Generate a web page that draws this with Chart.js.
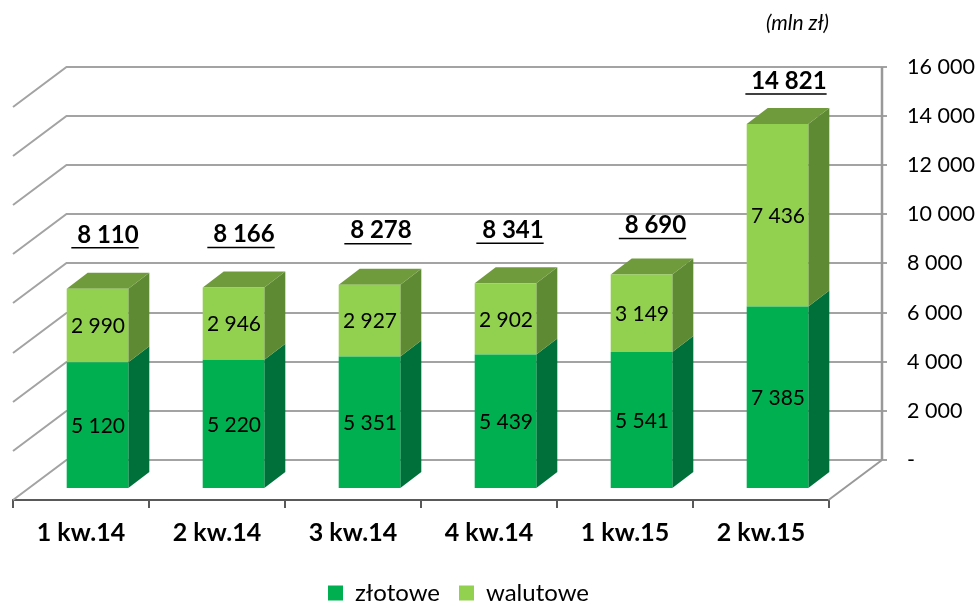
<!DOCTYPE html>
<html><head><meta charset="utf-8">
<style>html,body{margin:0;padding:0;background:#fff}#w{width:977px;height:603px;position:relative}</style>
<script src="https://cdn.jsdelivr.net/npm/chart.js@4"></script>
</head><body><div id="w"><canvas id="c"></canvas></div>
<script>
const categories = ['1 kw.14','2 kw.14','3 kw.14','4 kw.14','1 kw.15','2 kw.15'];
const zlotowe = [5120,5220,5351,5439,5541,7385];
const walutowe = [2990,2946,2927,2902,3149,7436];
const totals = [8110,8166,8278,8341,8690,14821];
const wallTicks = [0,2000,4000,6000,8000,10000,12000,14000,16000];
const totalNudgeX = [7.5,7.5,8.5,4.5,11,8.5];
const totalNudgeY = [54,53,54,53,49,43];

const FONT = 'Lato, Carlito, Calibri, sans-serif';
const PX = 392/16000;            // pixels per unit
const TOP = 67, BOTTOM = 499;    // chart area
const BAR_ZERO = 487, WALL_ZERO = 459;
const SHIFT_X = 16.5;            // bars stand inside the floor
const DEPTH_X = 21, DEPTH_Y = 16;
const WALL_DX = 53.5, WALL_DY = 40, WALL_LEFT = 66.5, WALL_RIGHT = 882;
const fmt = v => String(v).replace(/\B(?=(\d{3})+$)/g,' ');

const sideColors = ['#00703A','#5F8A34'];
const topColors  = ['#00703A','#6F9B3D'];

function poly(ctx, pts, color){
  ctx.fillStyle = color; ctx.beginPath();
  pts.forEach((p,i)=> i ? ctx.lineTo(p[0],p[1]) : ctx.moveTo(p[0],p[1]));
  ctx.closePath(); ctx.fill();
}
const plugin3d = {
  id:'plugin3d',
  afterLayout(chart){
    chart.legend.right -= 73;
    chart.legend.top = 562;
    chart.titleBlock.right = chart.chartArea.right;
    chart.scales.x.bottom = chart.height;
  },
  beforeDatasetsDraw(chart){
    const ctx = chart.ctx, sc = chart.scales.yWall;
    ctx.save();
    ctx.strokeStyle = '#A3A3A3'; ctx.lineWidth = 2;
    wallTicks.forEach(v=>{
      const y = Math.round(sc.getPixelForValue(v));
      ctx.beginPath();
      ctx.moveTo(WALL_LEFT-WALL_DX, y+WALL_DY); ctx.lineTo(WALL_LEFT, y); ctx.lineTo(WALL_RIGHT+5, y);
      ctx.stroke();
    });
    const y0 = Math.round(sc.getPixelForValue(0)), y1 = Math.round(sc.getPixelForValue(16000));
    ctx.strokeStyle = '#999'; ctx.lineWidth = 2.5;
    ctx.beginPath(); ctx.moveTo(WALL_RIGHT,y1); ctx.lineTo(WALL_RIGHT,y0); ctx.stroke();
    ctx.lineWidth = 2;
    ctx.beginPath(); ctx.moveTo(WALL_RIGHT,y0); ctx.lineTo(WALL_RIGHT-WALL_DX,y0+WALL_DY); ctx.stroke();
    ctx.restore();
    ctx.save();
    ctx.translate(SHIFT_X,0);
    chart.data.datasets.forEach((ds,d)=>{
      chart.getDatasetMeta(d).data.forEach(b=>{
        const r = b.x+b.width/2, l = b.x-b.width/2;
        poly(ctx,[[r,b.y],[r+DEPTH_X,b.y-DEPTH_Y],[r+DEPTH_X,b.base-DEPTH_Y],[r,b.base]],sideColors[d]);
        if(d===1) poly(ctx,[[l,b.y],[l+DEPTH_X,b.y-DEPTH_Y],[r+DEPTH_X,b.y-DEPTH_Y],[r,b.y]],topColors[d]);
      });
    });
  },
  afterDatasetsDraw(chart){
    const ctx = chart.ctx;
    chart.data.datasets.forEach((ds,d)=>{
      ctx.fillStyle = '#000'; ctx.font = '21px '+FONT; ctx.textAlign='center'; ctx.textBaseline='middle';
      chart.getDatasetMeta(d).data.forEach((b,i)=>{
        ctx.fillText(fmt(ds.data[i]), b.x+0.5, (b.y+b.base)/2+1);
      });
    });
    ctx.restore();
    const top = chart.getDatasetMeta(1).data;
    ctx.save();
    ctx.font = 'bold 24px '+FONT; ctx.fillStyle='#000'; ctx.strokeStyle='#000'; ctx.lineWidth=1.5;
    ctx.textAlign='center'; ctx.textBaseline='middle';
    totals.forEach((t,i)=>{
      const b = top[i], s = ' '+fmt(t);
      const x = b.x+SHIFT_X+totalNudgeX[i], y = b.y-totalNudgeY[i];
      ctx.fillText(s,x,y);
      const w = ctx.measureText(s).width;
      ctx.beginPath(); ctx.moveTo(x-w/2,y+13); ctx.lineTo(x+w/2,y+13); ctx.stroke();
    });
    ctx.restore();
  }
};

new Chart(document.getElementById('c'),{
  type:'bar',
  data:{labels:categories,datasets:[
    {label:'złotowe',data:zlotowe,backgroundColor:'#00B050',borderWidth:0,yAxisID:'y',xAxisID:'x',clip:false},
    {label:'walutowe',data:walutowe,backgroundColor:'#92D050',borderWidth:0,yAxisID:'y',xAxisID:'x',clip:false}
  ]},
  plugins:[plugin3d],
  options:{
    responsive:true,maintainAspectRatio:false,animation:false,
    layout:{padding:{left:13,right:0,top:0,bottom:0}},
    datasets:{bar:{barPercentage:1,categoryPercentage:0.453}},
    plugins:{
      tooltip:{enabled:false},
      title:{display:true,text:'(mln zł)',align:'end',color:'#000',
        font:{family:FONT,size:21,style:'italic',weight:'normal'},padding:{top:11,bottom:30.8}},
      legend:{position:'bottom',labels:{color:'#000',boxWidth:15,boxHeight:15,padding:19,
        font:{family:FONT,size:24}}}
    },
    scales:{
      x:{stacked:true,
        afterFit(s){s.height=50;},
        grid:{drawOnChartArea:false,drawTicks:true,tickLength:8,color:'#595959',lineWidth:2},
        border:{color:'#595959',width:2},
        ticks:{color:'#000',padding:10,maxRotation:0,autoSkip:false,font:{family:FONT,size:25,weight:'bold'}}},
      y:{display:false,stacked:true,
        min:-(BOTTOM-BAR_ZERO)/PX,max:(BAR_ZERO-TOP)/PX},
      yWall:{position:'right',min:-(BOTTOM-WALL_ZERO)/PX,max:16000,
        afterBuildTicks(s){s.ticks=wallTicks.map(v=>({value:v}));},
        afterFit(s){s.width=148;s.paddingTop=0;s.paddingBottom=0;},
        grid:{display:false,drawTicks:false},border:{display:false},
        ticks:{color:'#000',padding:78,crossAlign:'near',font:{family:FONT,size:21.5},
          callback:v=>v===0?'-':fmt(v)}}
    }
  }
});
</script></body></html>
